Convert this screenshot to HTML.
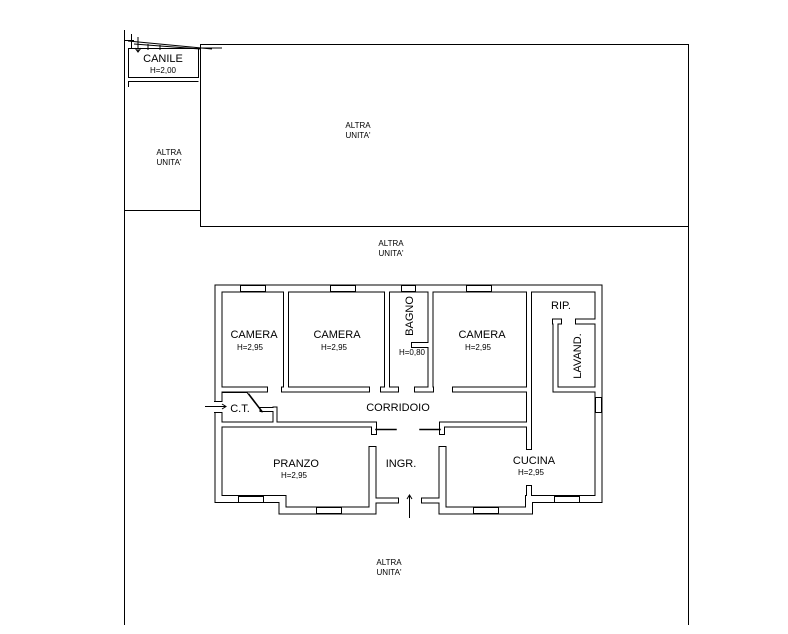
<!DOCTYPE html>
<html><head><meta charset="utf-8"><style>
html,body{margin:0;padding:0;background:#fff}
svg{display:block}
text{font-family:"Liberation Sans",sans-serif;fill:#000}
</style></head><body>
<svg width="788" height="634" viewBox="0 0 788 634" xmlns="http://www.w3.org/2000/svg">
<rect width="788" height="634" fill="#fff"/>
<g stroke="#000" stroke-width="1" fill="none" shape-rendering="crispEdges">
 <path d="M124.5 30 V625"/>
 <path d="M688.5 44 V625"/>
 <path d="M200.5 44.5 H688.5 V226.5 H200.5 Z"/>
 <path d="M124 210.5 H200"/>
 <path d="M128.5 48.5 H198.5 V77.5 H128.5 Z"/>
 <path d="M128.5 81 V87 M128.5 81.5 H198.5"/>
 <path d="M131.5 34 V48 M124 40.5 H134"/>
</g>
<g stroke="#000" stroke-width="1" fill="none">
 <path d="M128 41 L212 49"/>
 <path d="M134 44 L200 49"/>
 <path d="M138 37 V52 M135 48 L138 52 L141 48"/>
 <path d="M148 44 V50 M160 45 V50 M198 48 L222 48"/>
</g>
<g fill="none" stroke-linecap="square" stroke-linejoin="miter">
 <g stroke="#000">
  <path stroke-width="8" d="M372.5 450 V510.5 H282.5 V499 H218.5 V288.5 H598.5 V499 H529 V510.5 H442.5 V450"/>
  <path stroke-width="6" d="M286 289 V389 M387 289 V389 M430.5 289 V389 M430 345 H414 M529 289 V447 M529 488 V506"/>
  <path stroke-width="6" d="M222 389.5 H265 M284 389.5 H367 M383 389.5 H396 M417 389.5 H431 M455 389.5 H526"/>
  <path stroke-width="6" d="M222 424.5 H374 V432 M442 424.5 H526 M442 424.5 V432"/>
  <path stroke-width="6" d="M376 500.5 H396 M424 500.5 H440"/>
  <path stroke-width="6" d="M555.5 322 V389.5 H595 M555 321.5 H559 M578 321.5 H595"/>
  <path stroke-width="5" d="M275 409 V424 M262 409.5 H275"/>
 </g>
 <g stroke="#fff">
  <path stroke-width="6" d="M372.5 450 V510.5 H282.5 V499 H218.5 V288.5 H598.5 V499 H529 V510.5 H442.5 V450"/>
  <path stroke-width="4" d="M286 289 V389 M387 289 V389 M430.5 289 V389 M430 345 H414 M529 289 V447 M529 488 V506"/>
  <path stroke-width="4" d="M222 389.5 H265 M284 389.5 H367 M383 389.5 H396 M417 389.5 H431 M455 389.5 H526"/>
  <path stroke-width="4" d="M222 424.5 H374 V432 M442 424.5 H526 M442 424.5 V432"/>
  <path stroke-width="4" d="M376 500.5 H396 M424 500.5 H440"/>
  <path stroke-width="4" d="M555.5 322 V389.5 H595 M555 321.5 H559 M578 321.5 H595"/>
  <path stroke-width="3" d="M275 409 V424 M262 409.5 H275"/>
 </g>
 <path d="M218.5 402 V412" stroke="#fff" stroke-width="10" stroke-linecap="butt"/>
 <path d="M214.5 401.5 H222 M214.5 412.5 H222" stroke="#000" stroke-width="1"/>
 <path d="M376 429.5 H396 M420 429.5 H440" stroke="#000" stroke-width="1.5"/>
 <path d="M223 392.5 H247 L262 412 M249 394 L262 411" stroke="#000" stroke-width="1"/>
 <path d="M526.5 392 V421 M526.5 428 V447" stroke="#000" stroke-width="1"/>
</g>
<g fill="#fff" stroke="#000" stroke-width="1" shape-rendering="crispEdges">
 <rect x="240.5" y="285.5" width="25" height="6"/>
 <rect x="330.5" y="285.5" width="25" height="6"/>
 <rect x="401.5" y="285.5" width="14" height="6"/>
 <rect x="466.5" y="285.5" width="25" height="6"/>
 <rect x="238.5" y="496.5" width="25" height="6"/>
 <rect x="316.5" y="507.5" width="25" height="6"/>
 <rect x="473.5" y="507.5" width="25" height="6"/>
 <rect x="554.5" y="496.5" width="25" height="6"/>
 <rect x="595.5" y="397.5" width="6" height="15"/>
</g>
<g stroke="#000" stroke-width="1" fill="none">
 <path d="M409.5 495 V518 M407 499 L409.5 495 L412 499"/>
 <path d="M205 406.5 H226 M222 404 L226 406.5 L222 409"/>
</g>
<g font-size="11" text-anchor="middle">
 <text x="163" y="62">CANILE</text>
 <text x="254" y="338">CAMERA</text>
 <text x="337" y="338">CAMERA</text>
 <text x="482" y="338">CAMERA</text>
 <text x="398" y="411">CORRIDOIO</text>
 <text x="240" y="412">C.T.</text>
 <text x="296" y="467">PRANZO</text>
 <text x="401" y="467">INGR.</text>
 <text x="534" y="464">CUCINA</text>
 <text x="561" y="309">RIP.</text>
 <text transform="translate(413,316) rotate(-90)" x="0" y="0">BAGNO</text>
 <text transform="translate(581,356) rotate(-90)" x="0" y="0">LAVAND.</text>
</g>
<g font-size="8" text-anchor="middle">
 <text x="163" y="73">H=2,00</text>
 <text x="250" y="350">H=2,95</text>
 <text x="334" y="350">H=2,95</text>
 <text x="478" y="350">H=2,95</text>
 <text x="412" y="355">H=0,80</text>
 <text x="294" y="478">H=2,95</text>
 <text x="531" y="475">H=2,95</text>
 <text x="358" y="128">ALTRA</text><text x="358" y="138">UNITA'</text>
 <text x="169" y="155">ALTRA</text><text x="169" y="165">UNITA'</text>
 <text x="391" y="246">ALTRA</text><text x="391" y="256">UNITA'</text>
 <text x="389" y="565">ALTRA</text><text x="389" y="575">UNITA'</text>
</g>
</svg>
</body></html>
